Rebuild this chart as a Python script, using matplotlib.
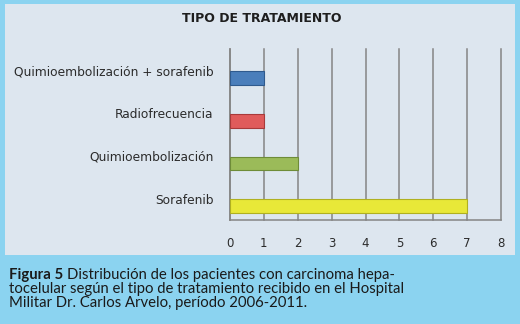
import matplotlib
matplotlib.use("Agg")
import matplotlib.pyplot as plt

categories = ["Quimioembolización + sorafenib", "Radiofrecuencia", "Quimioembolización", "Sorafenib"]
values = [1, 1, 2, 7]
bar_colors = ["#4A7EBB", "#E05B5B", "#9BBB59", "#E8E838"]
edge_colors = ["#2F5A8E", "#A83A3A", "#6E8C38", "#B0B020"]
xticks = [0, 1, 2, 3, 4, 5, 6, 7, 8]
title = "TIPO DE TRATAMIENTO"

W, H = 520, 324
fig = plt.figure(figsize=(W / 100, H / 100), dpi=100)
fig.patch.set_facecolor("#8BD3F0")

# inner panel
bg = fig.add_axes([5 / W, 1 - 255 / H, 510 / W, 251 / H], zorder=0)
bg.set_facecolor("#DDE6EF")
bg.set_xticks([]); bg.set_yticks([])
for s in bg.spines.values():
    s.set_visible(False)

ax = fig.add_axes([230 / W, 1 - 220 / H, 271 / W, 171 / H], zorder=1)
ax.set_facecolor("none")
n = len(categories)
pos = list(range(n))
ax.barh([p + 0.18 for p in pos], values, height=0.32, color=bar_colors,
        edgecolor=edge_colors, linewidth=0.8, zorder=3)
ax.set_yticks(pos)
ax.set_yticklabels(categories, fontsize=8.8, color="#2B2B2B")
ax.set_ylim(n - 0.5, -0.5)
ax.set_xlim(0, 8)
ax.set_xticks(xticks)
ax.set_xticklabels([str(v) for v in xticks], fontsize=8.5, color="#2B2B2B")
ax.tick_params(axis="both", length=0)
ax.tick_params(axis="x", pad=12)
ax.tick_params(axis="y", pad=12)
ax.grid(axis="x", color="#858585", linewidth=1.1, zorder=1)
for gl in ax.get_xgridlines():
    gl.set_clip_on(False)
for s in ["top", "right"]:
    ax.spines[s].set_visible(False)
for s in ["left", "bottom"]:
    ax.spines[s].set_color("#858585")
    ax.spines[s].set_linewidth(1.1)

fig.text(262 / W, 1 - 19 / H, title, ha="center", va="center",
         fontsize=9, fontweight="bold", color="#1E1E1E")

cap_font = "Lato"
fs = 10.7
y0 = 1 - 275 / H
dy = 14 / H
t = fig.text(9 / W, y0, "Figura 5", fontsize=fs, fontweight="bold",
             color="#1A1A1A", va="center", family=cap_font)
fig.canvas.draw()
bb = t.get_window_extent()
fig.text((bb.x1 + 4) / W, y0, "Distribución de los pacientes con carcinoma hepa-",
         fontsize=fs, color="#1A1A1A", va="center", family=cap_font)
fig.text(9 / W, y0 - dy, "tocelular según el tipo de tratamiento recibido en el Hospital",
         fontsize=fs, color="#1A1A1A", va="center", family=cap_font)
fig.text(9 / W, y0 - 2 * dy, "Militar Dr. Carlos Arvelo, período 2006-2011.",
         fontsize=fs, color="#1A1A1A", va="center", family=cap_font)

fig.savefig("out.png", dpi=100, facecolor=fig.get_facecolor())
